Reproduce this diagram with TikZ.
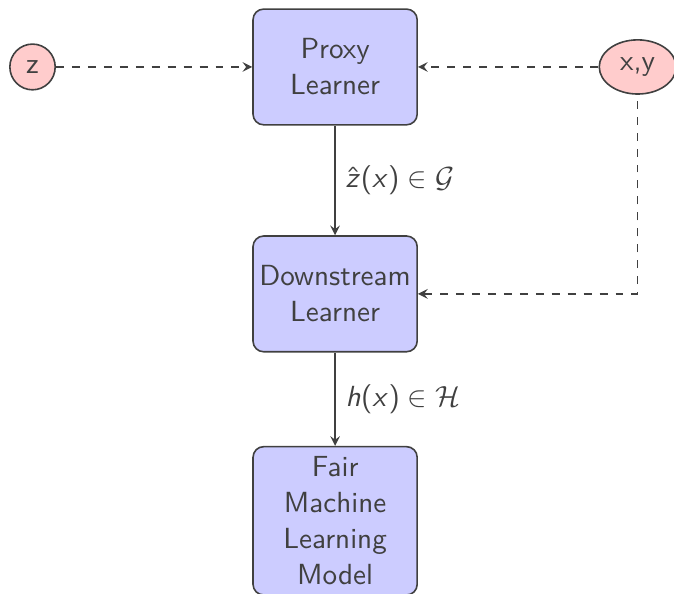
\documentclass[tikz,border=0pt,11pt]{standalone}
\usetikzlibrary{shapes.geometric}
\renewcommand{\familydefault}{\sfdefault}
% sans serif math for the edge labels
\SetSymbolFont{operators}{normal}{OT1}{cmss}{m}{n}
\DeclareSymbolFont{sfslanted}{OT1}{cmss}{m}{sl}
\DeclareMathSymbol{h}{\mathalpha}{sfslanted}{`h}
\DeclareMathSymbol{x}{\mathalpha}{sfslanted}{`x}
\DeclareMathSymbol{z}{\mathalpha}{sfslanted}{`z}
\tikzset{
  learner/.style={draw=black!75, fill=blue!20, rounded corners, align=center,
    inner xsep=2pt, minimum width=2.17cm, minimum height=1.53cm},
  data/.style={ellipse, draw=black!75, fill=red!20},
}
\begin{document}
\begin{tikzpicture}[color=black!75, >=stealth, semithick]
\useasboundingbox (-4.43,0.885) rectangle (4.48,-6.96);
\node[learner] (proxy) at (0,0) {Proxy\\Learner};
\node[data] (z) at (-4,0) {z} edge [->, dashed] (proxy);
\node[data] (xy) at (4,0) {x,y} edge [->, dashed] (proxy);
\node[learner] (down) at (0,-3) {Downstream\\Learner}
  edge [<-] node[right] {$\hat{z}(x)\in\mathcal{G}$} (proxy)
  edge [<-, dashed, to path={-| (\tikztotarget)}] (xy);
\node[learner] (fair) at (0,-6) {Fair\\Machine\\Learning\\Model}
  edge [<-] node[right] {$h(x)\in\mathcal{H}$} (down);
\end{tikzpicture}
\end{document}
